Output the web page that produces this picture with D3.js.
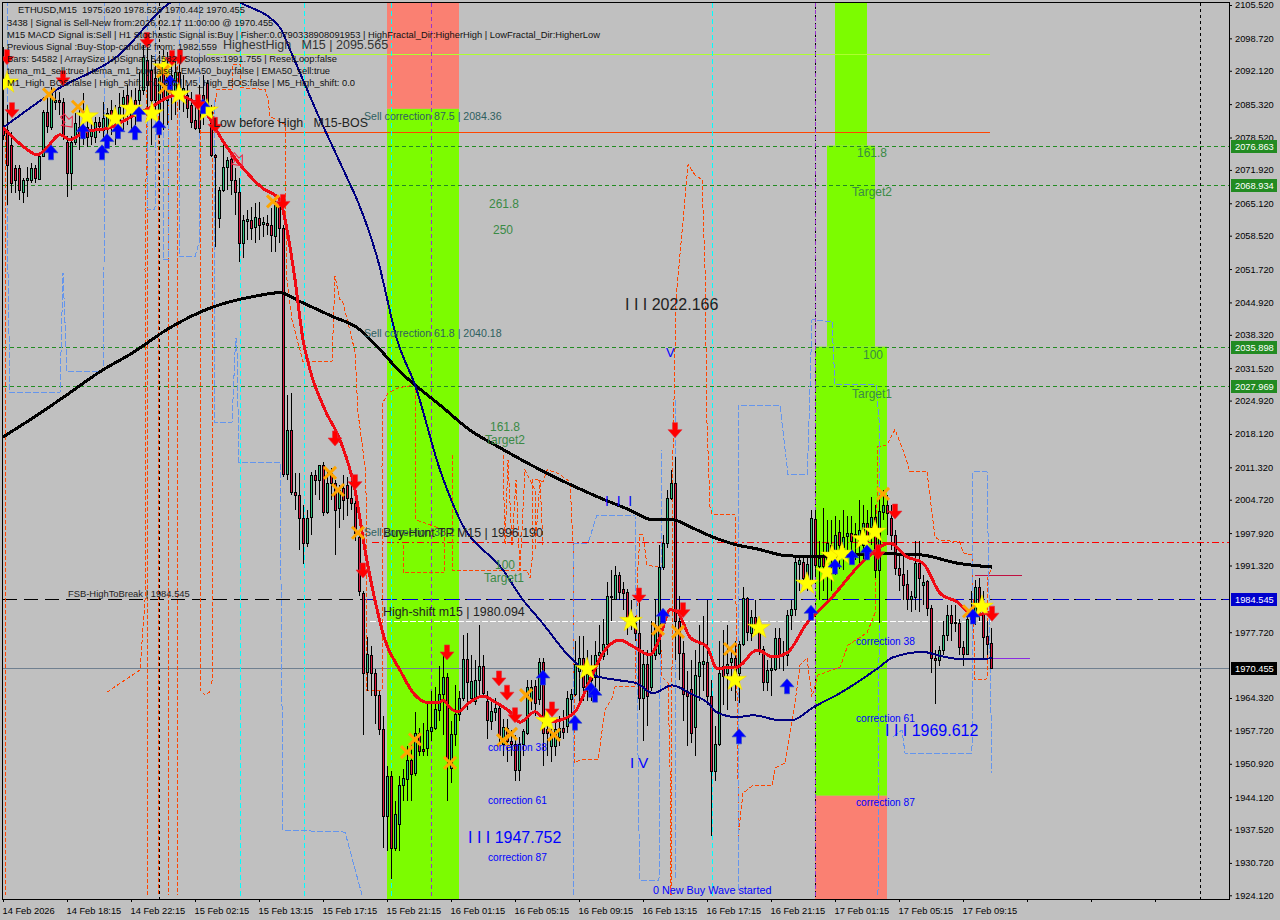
<!DOCTYPE html>
<html><head><meta charset="utf-8">
<script src="https://cdn.jsdelivr.net/npm/d3@7/dist/d3.min.js"></script>
<style>html,body{margin:0;padding:0;background:#c0c0c0}svg{display:block}text{font-family:"Liberation Sans",sans-serif}</style>
</head><body><div id="c"></div><script>
// open, high, low, close per M15 bar
const candles=[
[2081.1,2097.0,2078.0,2079.1],[2080.1,2085.2,2064.8,2072.9],[2077.0,2079.7,2067.2,2069.3],[2072.3,2072.9,2067.2,2069.9],[2072.3,2072.9,2065.8,2067.8],[2067.4,2070.3,2065.2,2069.9],[2069.9,2072.5,2066.4,2070.3],[2069.9,2073.3,2069.3,2072.3],[2072.3,2072.9,2069.3,2070.3],[2070.1,2075.4,2069.9,2074.8],
[2074.8,2084.2,2074.6,2083.8],[2083.8,2087.6,2079.5,2080.9],[2080.7,2088.9,2080.1,2087.6],[2085.8,2088.2,2084.2,2086.2],[2086.2,2087.8,2083.1,2085.8],[2085.8,2086.6,2078.0,2079.1],[2077.6,2078.9,2066.4,2071.3],[2071.3,2078.9,2067.8,2077.6],[2077.6,2083.5,2077.0,2081.5],[2080.7,2084.6,2076.0,2079.1],
[2078.4,2087.6,2077.0,2080.7],[2080.7,2083.8,2076.6,2078.6],[2078.9,2081.7,2077.0,2080.1],[2078.6,2082.7,2077.4,2081.7],[2081.7,2082.7,2079.5,2080.9],[2080.1,2085.8,2078.0,2082.5],[2080.5,2084.6,2077.4,2083.5],[2084.2,2086.2,2079.1,2081.1],[2083.5,2085.2,2077.0,2081.7],[2082.1,2087.6,2079.7,2084.8],
[2085.4,2088.2,2080.1,2086.8],[2087.2,2089.3,2081.1,2085.2],[2082.7,2088.2,2080.1,2085.6],[2086.2,2088.6,2081.1,2084.6],[2086.2,2091.9,2082.1,2088.2],[2088.2,2097.4,2087.2,2095.0],[2094.4,2097.4,2084.2,2089.3],[2092.3,2095.4,2077.0,2086.2],[2090.7,2094.4,2082.1,2086.2],[2084.2,2095.4,2079.1,2091.7],
[2092.3,2096.4,2080.1,2086.2],[2086.2,2096.0,2081.1,2091.9],[2091.3,2094.4,2082.1,2088.2],[2087.8,2094.8,2083.1,2091.9],[2091.9,2095.4,2084.2,2088.6],[2086.6,2091.3,2083.8,2088.6],[2087.2,2089.3,2082.5,2084.6],[2085.2,2087.8,2080.5,2081.7],[2082.1,2086.2,2080.1,2080.5],[2086.2,2089.3,2079.5,2080.5],
[2087.2,2091.3,2081.1,2083.1],[2089.7,2090.3,2082.7,2084.2],[2084.2,2085.2,2074.6,2075.0],[2075.0,2075.2,2056.2,2074.6],[2062.1,2068.5,2060.1,2067.8],[2067.8,2077.0,2067.4,2072.5],[2072.5,2074.6,2067.8,2074.0],[2074.2,2075.4,2066.8,2069.9],[2069.9,2072.3,2062.7,2067.4],[2067.4,2070.3,2053.2,2057.0],
[2057.0,2062.7,2054.0,2061.7],[2061.5,2063.8,2057.6,2061.9],[2061.7,2064.4,2057.6,2060.1],[2060.3,2065.2,2057.0,2062.3],[2062.1,2065.4,2057.6,2060.7],[2060.9,2062.3,2058.3,2061.3],[2061.1,2062.7,2058.7,2060.7],[2060.7,2064.2,2055.2,2058.7],[2058.5,2065.8,2055.2,2064.8],[2064.8,2065.8,2057.0,2060.1],
[2060.1,2060.7,2009.3,2009.9],[2009.9,2026.0,2008.7,2018.9],[2018.9,2026.4,2005.6,2006.2],[2006.2,2010.1,2002.6,2005.6],[2005.6,2010.1,1994.4,2000.9],[2000.9,2003.6,1991.7,1996.0],[1996.0,2002.6,1995.0,2000.9],[2001.1,2010.3,1997.5,2009.7],[2009.7,2010.7,2005.6,2008.7],[2008.7,2011.8,2004.6,2011.7],
[2011.7,2012.4,2001.5,2002.2],[2002.2,2010.7,2001.9,2008.1],[2010.1,2011.1,2004.6,2008.1],[2008.1,2008.7,1993.4,2002.6],[2003.0,2007.7,1998.9,2006.6],[2007.2,2009.7,2000.5,2004.6],[2007.7,2009.3,2001.5,2005.0],[2005.0,2008.7,2002.6,2004.0],[2004.0,2004.6,1996.4,1997.9],[1997.1,1998.5,1985.2,1986.2],
[1985.8,1986.2,1956.7,1969.5],[1969.7,1976.8,1965.8,1973.2],[1973.0,1975.0,1964.8,1969.5],[1969.5,1970.3,1959.1,1965.0],[1965.0,1965.8,1956.7,1958.1],[1958.1,1960.7,1933.8,1940.3],[1940.3,1950.5,1933.2,1948.5],[1948.5,1949.5,1927.5,1933.8],[1933.8,1943.4,1933.2,1940.7],[1938.7,1948.5,1933.2,1946.5],
[1946.5,1949.9,1943.4,1948.1],[1947.9,1954.6,1943.4,1951.6],[1951.6,1955.6,1943.4,1948.9],[1949.1,1961.4,1948.5,1957.1],[1957.1,1958.3,1952.6,1953.6],[1954.0,1959.3,1952.6,1953.6],[1954.2,1963.8,1952.6,1957.7],[1957.5,1965.8,1955.6,1958.5],[1958.3,1966.5,1957.7,1962.0],[1961.8,1970.9,1959.7,1965.2],
[1965.2,1973.0,1956.7,1968.7],[1968.7,1969.5,1943.4,1951.6],[1950.1,1959.7,1946.9,1956.9],[1956.9,1966.9,1954.6,1961.0],[1961.0,1965.8,1959.7,1964.4],[1964.4,1977.1,1963.8,1972.2],[1972.2,1977.5,1961.8,1967.5],[1964.4,1973.0,1963.8,1967.7],[1963.8,1972.0,1962.8,1967.9],[1967.9,1979.1,1964.8,1970.9],
[1970.9,1973.0,1964.8,1965.4],[1963.8,1965.8,1956.0,1959.9],[1959.7,1963.8,1957.7,1961.6],[1961.4,1964.4,1959.7,1962.2],[1962.2,1962.8,1954.6,1956.7],[1955.0,1960.1,1952.6,1958.5],[1958.3,1960.1,1951.2,1955.6],[1955.6,1957.7,1952.6,1955.0],[1955.0,1956.7,1947.5,1949.7],[1949.7,1956.3,1947.5,1955.0],
[1955.0,1958.1,1952.6,1957.5],[1957.1,1967.9,1956.7,1966.5],[1964.2,1967.9,1961.8,1966.5],[1966.7,1967.9,1960.7,1963.2],[1964.2,1972.4,1962.8,1971.6],[1971.6,1972.4,1950.5,1957.1],[1958.1,1959.7,1952.6,1957.1],[1954.6,1958.7,1951.2,1957.1],[1954.6,1959.7,1952.6,1958.1],[1956.3,1960.7,1954.6,1958.3],
[1958.3,1961.8,1956.0,1957.3],[1958.7,1965.8,1957.1,1964.4],[1964.2,1966.2,1960.7,1965.2],[1965.2,1976.0,1964.8,1971.3],[1969.9,1977.0,1963.8,1972.4],[1972.4,1976.9,1963.8,1966.5],[1966.5,1974.0,1963.8,1969.3],[1970.3,1973.0,1963.8,1967.9],[1968.5,1976.0,1964.8,1973.0],[1973.0,1979.1,1965.8,1973.6],
[1972.8,1980.5,1972.0,1975.4],[1975.4,1987.9,1973.0,1985.2],[1984.8,1990.3,1980.1,1985.2],[1984.4,1991.3,1984.2,1989.3],[1989.3,1989.9,1984.2,1986.0],[1986.6,1987.9,1982.2,1985.8],[1986.0,1986.6,1977.1,1980.1],[1980.1,1984.2,1978.1,1979.1],[1979.5,1981.1,1976.0,1977.5],[1977.5,1984.2,1961.8,1964.4],
[1964.4,1974.0,1955.6,1971.3],[1971.3,1974.0,1958.7,1964.8],[1966.5,1980.1,1965.8,1973.0],[1973.0,1984.2,1972.0,1979.1],[1973.4,1995.4,1973.0,1991.1],[1991.1,1997.5,1990.3,1996.0],[1996.0,2006.6,1994.8,2005.0],[2005.0,2010.7,2004.6,2008.1],[2008.1,2013.4,1972.0,1980.1],[1980.1,1985.2,1967.9,1973.4],
[1973.4,1976.0,1959.7,1965.2],[1965.8,1969.9,1954.6,1964.8],[1966.2,1972.0,1955.2,1957.1],[1958.5,1974.0,1952.6,1969.1],[1968.9,1979.1,1963.8,1971.6],[1971.3,1981.1,1965.8,1971.8],[1971.6,1984.2,1962.8,1964.8],[1964.8,1967.9,1936.3,1949.5],[1949.5,1958.7,1947.5,1955.0],[1955.0,1976.0,1954.6,1969.5],
[1970.9,1978.1,1962.8,1968.9],[1969.5,1979.1,1961.8,1971.3],[1971.6,1975.0,1965.8,1972.4],[1972.4,1976.0,1963.8,1969.0],[1969.5,1976.0,1963.2,1975.4],[1975.4,1986.9,1975.0,1984.6],[1984.6,1984.8,1976.0,1977.7],[1977.5,1982.2,1976.0,1980.9],[1980.9,1984.2,1977.1,1977.7],[1977.7,1979.1,1973.0,1974.4],
[1974.4,1975.0,1965.8,1967.5],[1967.5,1972.0,1965.8,1970.1],[1970.1,1973.0,1964.8,1970.5],[1970.3,1978.5,1969.9,1976.6],[1976.6,1978.5,1970.3,1973.0],[1973.4,1976.0,1969.9,1973.0],[1973.0,1982.2,1970.9,1981.3],[1981.3,1984.2,1978.1,1982.4],[1982.4,1993.4,1981.1,1992.0],[1991.7,1993.4,1986.2,1992.4],
[1992.0,1993.0,1986.2,1988.7],[1988.7,1993.4,1986.2,1991.7],[1988.3,2002.6,1986.2,2000.9],[2000.7,2002.6,1989.3,1991.5],[1991.3,1996.4,1984.2,1992.8],[1993.4,2003.1,1986.2,1991.3],[1992.4,2000.5,1984.2,1996.0],[1995.4,2000.5,1986.2,1993.4],[1994.4,2001.5,1989.3,1997.5],[1998.1,2000.5,1990.7,1995.4],
[1995.0,2002.6,1990.3,1997.1],[1997.3,2001.5,1994.4,1997.9],[1997.9,2001.5,1992.4,1996.4],[1997.7,1999.9,1992.4,1997.3],[1995.4,2004.6,1991.3,1998.5],[1995.4,2003.6,1992.4,1999.9],[1999.9,2002.6,1992.4,1996.4],[1999.1,2005.2,1995.4,2001.1],[2001.1,2003.6,1988.7,1990.3],[1990.5,2005.6,1979.5,2002.4],
[2002.2,2006.6,2000.5,2003.6],[2003.6,2005.6,1997.5,2002.0],[2000.9,2003.6,1994.4,1997.5],[1997.5,1998.5,1989.3,1990.9],[1990.9,1993.4,1986.2,1989.3],[1989.5,1993.4,1984.2,1987.3],[1987.5,1990.3,1982.2,1984.4],[1984.4,1986.2,1981.8,1985.2],[1985.0,1996.4,1982.2,1991.9],[1991.9,1996.4,1981.8,1988.7],
[1987.3,1989.3,1983.2,1987.9],[1988.1,1988.3,1981.1,1982.6],[1982.6,1983.2,1969.5,1972.4],[1972.4,1974.0,1963.0,1972.0],[1972.0,1975.0,1970.9,1974.2],[1974.0,1980.1,1973.0,1977.1],[1977.1,1983.2,1976.0,1981.3],[1981.3,1983.2,1976.0,1979.7],[1979.7,1983.2,1977.7,1979.9],[1979.7,1980.5,1973.0,1974.8],
[1974.8,1976.0,1970.9,1973.2],[1973.2,1981.1,1973.0,1980.5],[1980.5,1986.2,1979.5,1981.8],[1981.8,1988.3,1979.1,1986.9],[1986.9,1988.7,1980.1,1981.8],[1981.8,1986.2,1972.0,1976.7],[1976.9,1980.1,1973.0,1975.4],[1975.62,1978.52,1970.442,1970.455]];

// [bar, price]
const temaLine=[[0,2080.5],[1.75,2079.1],[5.5,2076.4],[8.5,2075.0],[10.5,2076.0],[14.25,2079.1],[16.75,2078.1],[20.5,2079.7],[26.75,2080.5],[31.75,2082.6],[36.75,2084.6],[43,2087.1],[50.5,2083.8],[54.75,2078.1],[59.25,2073.0],[64.75,2068.3],[69.25,2065.8],[70.5,2061.8],[73,2049.6],[75,2037.3],[76.75,2031.2],[80.5,2023.0],[84.25,2016.9],[88,2006.7],[90.5,1994.5],[93,1984.2],[95.5,1976.1],[99.25,1970.0],[103,1964.9],[106.75,1963.3],[109.25,1963.5],[110,1963.9],[111.75,1962.3],[113.75,1961.5],[116.75,1963.5],[120,1964.7],[123,1963.5],[126.75,1961.5],[129.25,1959.4],[133,1961.5],[136.25,1959.4],[139.25,1959.8],[143,1961.5],[146.75,1968.0],[150.5,1974.1],[154.25,1976.1],[157.75,1974.7],[161.75,1973.1],[164.25,1976.7],[166.75,1982.3],[168.5,1981.9],[171.75,1976.7],[176,1974.7],[178.5,1970.4],[183.5,1970.6],[188.5,1974.1],[192.5,1972.7],[196,1973.5],[201,1979.6],[206,1983.7],[216,1992.9],[221.75,1995.9],[226,1993.1],[230,1991.8],[234.25,1985.7],[238.5,1983.9],[242.5,1981.2],[246.75,1981.8]];
const navyLine=[[0,2080.5],[13.5,2088.3],[28.5,2095.0],[41.75,2106.0],[50.5,2109.1],[59.25,2106.0],[69.25,2100.9],[71.75,2096.4],[78.5,2083.6],[86.25,2069.9],[88.75,2065.4],[93.5,2054.2],[98.75,2036.7],[103,2028.1],[109.25,2010.8],[114.25,2000.6],[125,1990.4],[130,1984.3],[134.25,1980.2],[142.5,1972.0],[147.5,1969.0],[154.25,1967.9],[158.5,1967.3],[162.5,1965.3],[167.25,1966.9],[171.75,1965.3],[176.25,1963.3],[178.5,1961.4],[183.5,1960.4],[187.5,1960.8],[194.25,1959.8],[197.25,1959.8],[202.5,1962.4],[209.25,1965.3],[218.75,1970.4],[222.5,1972.6],[230,1973.7],[234.25,1972.9],[240,1972.2],[247.25,1972.4]];
const blackLine=[[0,2017.5],[7.5,2021.4],[16,2026.1],[24.25,2030.8],[32.5,2034.7],[41,2039.4],[52.5,2044.0],[62.5,2046.1],[69.25,2046.9],[74.25,2045.1],[82.5,2042.0],[88.5,2039.8],[94.25,2035.3],[99.25,2030.8],[103,2028.1],[109.25,2024.0],[116.75,2018.9],[124.25,2015.3],[136.75,2009.8],[149.25,2005.1],[156.75,2002.6],[162.5,2000.6],[167.5,2000.6],[171.75,1999.2],[177.5,1997.1],[183.5,1995.5],[188.5,1994.7],[196,1993.3],[205,1993.1],[219.25,1993.7],[229.25,1993.5],[238.5,1991.8],[247.25,1991.0]];

const orangeSegs=[
[[.5,2080.1],[.5,1924.2]],
[[26,1965.5],[30.5,1968.0],[34.25,1970.0],[35.5,1984.3],[35.5,2051.6],[36,2088.3],[36,1924.2]],
[[38.75,2090.3],[38.75,1924.2]],[[41.25,2088.3],[41.25,1924.2]],[[43.5,2094.4],[43.5,1924.2]],
[[49.25,2080.1],[49.25,1965.9],[50.5,1964.9],[52.25,1965.9],[52.5,2082.2],[53.5,2088.3],[57.25,2088.3],[57.25,2093.4],[59.25,2093.4],[59.25,2088.7],[65.5,2088.3],[66.25,2086.3],[66.75,2082.8],[70.5,2081.2],[70.5,2069.9],[71,2049.5],[72.25,2041.4],[75,2032.8],[82.25,2032.8],[83,2050.2],[84.25,2045.5],[85,2044.9],[88,2034.9],[88.75,2022.4],[89.75,2016.3],[90.5,2011.4],[90.75,2006.1],[90.75,1965.9],[94.75,1965.9],[94.75,2011.4],[95,2024.5],[96.25,2026.5],[98.75,2027.5],[103,2028.1],[103.25,2000.6],[110.25,1998.6],[110.25,1989.8]],
[[100,1995.5],[100,1989.8],[110.25,1989.8]],
[[112.25,2013.9],[112.25,1990.4],[131,1990.4],[131.75,1988.8],[132.25,1992.4],[132.25,2008.8],[133.5,2008.8],[135,2008.4],[136,2010.8],[138.5,2010.2],[141.75,2008.4],[142.5,1995.9],[142.5,1986.3],[143,1951.1],[144.25,1951.7],[148.75,1951.7],[150.5,1961.9],[152.25,1964.3],[153,1966.6],[158,1966.6],[158.75,1991.0],[159.25,1997.6],[160,1997.6],[161,1991.4],[163.75,1991.0],[164.75,1968.6],[166.25,1967.4],[166.75,1950.2],[167,1924.2],[167.5,2014.9],[168.25,2045.5],[171.25,2073.0],[173,2070.9],[174.75,2069.9],[175.5,2051.6],[176,2020.4],[176.75,2003.3],[177.25,2001.8],[183,2001.8],[183.75,1947.6],[183.75,1935.4],[184.25,1939.4],[185,1944.9],[187.25,1946.4],[192.25,1946.4],[193,1950.0],[195.5,1951.1],[196.75,1957.2],[198,1963.3],[199.25,1971.0],[201,1972.5],[202.25,1964.5],[203.75,1969.0],[209.25,1970.6],[211.25,1975.1],[216,1977.6],[218,1981.6],[218.75,2015.5],[221,2015.9],[223,2019.0],[225,2014.9],[226.75,2010.4],[231,2010.4],[233,1997.1],[234.25,1996.5],[239.25,1996.1],[240,1993.9],[242.25,1993.5],[243,1968.0],[246,1968.2],[246.25,1989.0],[247.25,1991.0]],
[[125,2013.9],[125.5,1995.5],[126.25,2012.8],[127.25,1995.5],[128.25,2008.8],[129.25,1990.4],[130.5,2010.8],[133,2006.7],[133,1994.5],[134.25,2008.8],[135,1995.5]]];
const blueSegs=[
[[1,2106.6],[1,2063.2],[1.75,2026.5],[14.25,2026.5],[15,2051.0],[16,2030.8],[25,2030.8],[25.25,2052.2],[25.5,2106.6]],
[[36,2106.6],[36,2063.8],[38,2063.8],[38.25,2106.6]],
[[40,2094.4],[40,2053.6],[41.25,2053.6],[41.25,2094.4]],
[[44,2106.6],[44,2054.2],[48,2054.2],[49,2057.1],[49,2106.6]],
[[52.75,2086.2],[53,2020.4],[57.25,2020.4],[58,2034.7],[58.25,2037.7],[58.5,2034.7],[59,2012.4],[69.25,2012.4],[69.5,1988.4],[70,1937.4],[85.5,1937.0],[89.75,1924.2]],
[[142.5,1924.2],[142.5,1995.9],[146.25,1995.9],[148.5,2001.6],[158,2001.6],[159,1936.8],[159.25,1927.2],[164,1927.2],[164.25,1965.3],[164.75,2014.9]],
[[168,2025.1],[168,1927.2]],
[[183.75,1925.2],[183.75,2024.0],[194.25,2024.0],[196.25,2009.8],[201,2009.8],[201.25,2014.3],[202.25,2041.4],[207.25,2041.0],[208,2028.1],[218.25,2028.1],[219.25,2018.9],[218.75,1924.2]],
[[222.5,1956.4],[224.75,1957.8],[225.5,1953.1],[242.25,1953.1],[242.5,2010.4],[246,2010.4],[247.25,1949.0]]];

const redArrows=[[1,2095.0],[2.25,2084.2],[15,2090.7],[36,2098.5],[42.25,2094.8],[44.25,2095.0],[48.75,2085.8],[53,2081.2],[70,2065.5],[83,2017.3],[88,2008.4],[90,1990.4],[111,1973.7],[124,1968.4],[126,1965.5],[128,1960.9],[137.25,1962.1],[159,1985.3],[168,2019.0],[170,1982.3],[218.75,1994.1],[223,2002.4],[247.25,1981.6]];
const blueArrows=[[12,2075.4],[24.75,2075.4],[26,2077.7],[20,2079.7],[28.75,2079.7],[33,2079.5],[34,2083.2],[39,2080.5],[41.75,2089.7],[50,2084.8],[135,1968.4],[143,1959.2],[147,1965.9],[148,1964.9],[165,1981.0],[196,1966.6],[184,1956.4],[202,1981.6],[208,1991.0],[212.25,1992.9],[216,1993.9],[242.5,1980.8]];
const stars=[[1,2089.7],[21,2082.8],[28,2082.4],[32,2084.4],[37.25,2083.4],[44,2087.3],[51,2084.0],[40.25,2092.8],[136,1959.6],[146,1970.2],[157,1980.0],[183,1968.0],[189,1978.6],[201,1987.6],[206,1990.0],[207.25,1993.3],[209.75,1993.7],[215,1996.7],[218,1998.2],[244.75,1982.9]];
const crosses=[[11.5,2087.3],[18.75,2084.8],[67.5,2065.5],[40,2092.0],[40.5,2088.7],[81.75,2010.2],[83.75,2006.7],[88.75,1998.0],[101,1953.3],[103,1955.9],[111.75,1951.1],[125,1955.7],[127,1957.0],[130.75,1964.9],[137.75,1956.8],[163.75,1978.4],[168.75,1977.8],[181.75,1974.3],[220,2005.9],[241.5,1982.0]];
const hollowArrows=[[16,2081.9],[58.5,2074.0]];

const priceTicks=[2105.52,2098.72,2092.12,2085.32,2078.52,2071.92,2065.12,2058.52,2051.72,2044.92,2038.32,2031.52,2024.92,2018.12,2011.32,2004.72,1997.92,1991.32,1977.72,1964.32,1957.72,1950.92,1944.12,1937.52,1930.72,1924.12];
const timeLabels=["14 Feb 2026","14 Feb 18:15","14 Feb 22:15","15 Feb 02:15","15 Feb 13:15","15 Feb 17:15","15 Feb 21:15","16 Feb 01:15","16 Feb 05:15","16 Feb 09:15","16 Feb 13:15","16 Feb 17:15","16 Feb 21:15","17 Feb 01:15","17 Feb 05:15","17 Feb 09:15"];
const infoLines=["3438 | Signal is Sell-New from:2026.02.17 11:00:00 @ 1970.455","M15 MACD Signal is:Sell | H1 Stochastic Signal is:Buy | Fisher:0.0790338908091953 | HighFractal_Dir:HigherHigh | LowFractal_Dir:HigherLow","Previous Signal :Buy-Stop-candle2 from: 1982.559","Bars: 54582 | ArraySize UpSignal: 54582 | Stoploss:1991.755 | ResetLoop:false","tema_m1_sell:true | tema_m1_buy:false | EMA50_buy:false | EMA50_sell:true","M1_High_BOS:false | High_shift_m1: 0.0 | M5_High_BOS:false | M5_High_shift: 0.0"];

const W=1280,H=920,L=3,R=1229,T=3,B=899;
const x=d3.scaleLinear().domain([0,306.5]).range([L,R]);
const y=d3.scaleLinear().domain([1924.12,2105.52]).range([895.3,5]);
const svg=d3.select("#c").append("svg").attr("width",W).attr("height",H);
svg.append("rect").attr("width",W).attr("height",H).attr("fill","#c0c0c0");
svg.append("defs").append("clipPath").attr("id","pl").append("rect").attr("x",L).attr("y",T).attr("width",R-L).attr("height",B-T);
const g=svg.append("g").attr("clip-path","url(#pl)");

// zones: bar0, bar1, price top, price bottom, colour
const zones=[[96,114,2110,2084.36,"#fa8072"],[96,114,2084.36,1900,"#7cfc00"],
[208,216,2110,2076.863,"#7cfc00"],[206,218,2076.863,2035.898,"#7cfc00"],[203,221,2035.898,1944.4,"#7cfc00"],[203,221,1944.4,1900,"#fa8072"]];
g.selectAll(".z").data(zones).join("rect").attr("x",d=>x(d[0])).attr("width",d=>x(d[1])-x(d[0])).attr("y",d=>y(d[2])).attr("height",d=>y(d[3])-y(d[2])).attr("fill",d=>d[4]);

// levels: price, bar0, bar1, colour, dash, width
const levels=[[2076.863,0,306.5,"#228b22","4,3",1],[2068.934,0,306.5,"#228b22","4,3",1],[2035.898,0,306.5,"#228b22","4,3",1],[2027.969,0,306.5,"#228b22","4,3",1],
[1970.455,0,306.5,"#708090",null,1],[1984.545,0,306.5,"#000000","14,7",1],[1984.545,89.75,306.5,"#0000cd","14,7",1],[1996.19,92.25,306.5,"#ff0000","7,3,2,3",1],
[1980.094,91.75,247,"#ffffff","6,2",1],[2095.565,51,246.75,"#adff2f",null,1],[2079.7,49.25,246.75,"#ff4500",null,1],[1989.4,243,254.75,"#c01040",null,1],[1972.5,247.25,256.75,"#8a2be2",null,1]];
levels.forEach(d=>{const yy=Math.round(y(d[0]))+.5;g.append("line").attr("x1",x(d[1])).attr("x2",x(d[2])).attr("y1",yy).attr("y2",yy).attr("stroke",d[3]).attr("stroke-width",d[5]).attr("stroke-dasharray",d[4]);});

// vertical time lines: bar, colour, dash
[[39,"#000","3,3"],[203,"#000","2,2"],[299.25,"#000","3,3"],[59.25,"#00ffff","5,3"],[75.25,"#00ffff","5,3"],[97,"#00ffff","5,3"],[177.25,"#00ffff","5,3"],[107,"#9932cc","4,3"],[203,"#9932cc","4,3"]].forEach(d=>{const xx=Math.round(x(d[0]))+.5;g.append("line").attr("x1",xx).attr("x2",xx).attr("y1",T).attr("y2",B).attr("stroke",d[1]).attr("stroke-dasharray",d[2]);});

const ln=d3.line().x(d=>x(d[0])).y(d=>y(d[1]));
orangeSegs.forEach(s=>g.append("path").attr("d",ln(s)).attr("fill","none").attr("stroke","#ff4500").attr("stroke-dasharray","4,2").attr("shape-rendering","crispEdges"));
blueSegs.forEach(s=>g.append("path").attr("d",ln(s)).attr("fill","none").attr("stroke","#6495ed").attr("stroke-dasharray","6,2").attr("shape-rendering","crispEdges"));

// candles
const cg=g.append("g").attr("shape-rendering","crispEdges");
candles.forEach((d,i)=>{const [o,h,l,c]=d,X=Math.round(x(i)),top=Math.round(y(Math.max(o,c))),bot=Math.round(y(Math.min(o,c)));
 cg.append("line").attr("x1",X+.5).attr("x2",X+.5).attr("y1",y(h)).attr("y2",y(l)).attr("stroke","#000");
 cg.append("rect").attr("x",X-.5).attr("y",top+.5).attr("width",2).attr("height",Math.max(bot-top,1)).attr("fill",c>=o?"#2ec27e":"#dc143c").attr("stroke","#000");});

const lc=d3.line().curve(d3.curveMonotoneX).x(d=>x(d[0])).y(d=>y(d[1]));
g.append("path").attr("d",lc(blackLine)).attr("fill","none").attr("stroke","#000").attr("stroke-width",3).attr("shape-rendering","crispEdges");
g.append("path").attr("d",lc(navyLine)).attr("fill","none").attr("stroke","#000080").attr("stroke-width",2).attr("shape-rendering","crispEdges");
g.append("path").attr("d",lc(temaLine)).attr("fill","none").attr("stroke","#f00a14").attr("stroke-width",3).attr("shape-rendering","crispEdges");

// markers
const arrow="M-2.5,7L-2.5,0L-7,0L0,-8L7,0L2.5,0L2.5,7Z";
const at=d=>`translate(${x(d[0])},${y(d[1])})`;
g.selectAll(".st").data(stars).join("path").attr("d",d3.symbol(d3.symbolStar,160)()).attr("transform",at).attr("fill","#ffff00").attr("stroke","#f0d000").attr("stroke-width",.5);
g.selectAll(".cx").data(crosses).join("path").attr("d","M-6,-6L6,6M-6,6L6,-6").attr("transform",at).attr("stroke","#ffa500").attr("stroke-width",3).attr("fill","none");
g.selectAll(".ba").data(blueArrows).join("path").attr("d",arrow).attr("transform",at).attr("fill","#0000ff").attr("stroke","#3050c0").attr("stroke-width",.6);
g.selectAll(".ra").data(redArrows).join("path").attr("d",arrow).attr("transform",d=>at(d)+" rotate(180)").attr("fill","#ff0000").attr("stroke","#e03040").attr("stroke-width",.6);
g.selectAll(".ha").data(hollowArrows).join("path").attr("d",arrow).attr("transform",d=>at(d)+" rotate(140)").attr("fill","none").attr("stroke","#f02040").attr("stroke-width",1);

// labels: text, left, baseline, size, colour
const labels=[
["ETHUSD,M15  1975.620 1978.520 1970.442 1970.455",18,13,9.3,"#111"],
["HighestHigh   M15 | 2095.565",223,49,12.5,"#333"],["Low before High   M15-BOS",213,127,12.4,"#222"],
["Sell correction 87.5 | 2084.36",364,120,10.6,"#2f5f5f"],["Sell correction 61.8 | 2040.18",364,337,10.6,"#2f5f5f"],["Sell correction 38.2",364,536,10.6,"#2f5f5f"],
["Buy-Hunt TP M15 | 1996.190",383,537,12.4,"#222"],["High-shift m15 | 1980.094",383,616,12.4,"#222"],["FSB-HighToBreak | 1984.545",68,597,9.4,"#222"],
["261.8",489,208,12,"#3a8a45"],["250",493,234,12,"#3a8a45"],["161.8",490,431,12,"#3a8a45"],["Target2",485,444,12,"#3a8a45"],["100",495,569,12,"#3a8a45"],["Target1",484,582,12,"#3a8a45"],
["161.8",857,157,12,"#3a8a45"],["Target2",852,196,12,"#3a8a45"],["100",863,359,12,"#3a8a45"],["Target1",852,398,12,"#3a8a45"],
["I I I 2022.166",625,310,16,"#222"],["I I I 1947.752",468,843,16,"#0000ff"],["I I I 1969.612",885,736,16,"#0000ff"],
["correction 38",488,751,10.2,"#0000ff"],["correction 61",488,804,10.2,"#0000ff"],["correction 87",488,861,10.2,"#0000ff"],
["correction 38",856,645,10.2,"#0000ff"],["correction 61",856,722,10.2,"#0000ff"],["correction 87",856,806,10.2,"#0000ff"],
["0 New Buy Wave started",653,894,10.8,"#0000ff"],["I V",630,768,15,"#0000ff"],["V",666,357,13,"#0000ff"],["I  I  I",605,506,14,"#0000ff"]];
infoLines.forEach((t,i)=>labels.push([t,7,26+12*i,9.35,"#111"]));
svg.selectAll(".lb").data(labels).join("text").text(d=>d[0]).attr("x",d=>d[1]).attr("y",d=>d[2]).attr("font-size",d=>d[3]).attr("fill",d=>d[4]).attr("xml:space","preserve").style("white-space","pre");

// frame and axes
svg.append("rect").attr("x",L-.5).attr("y",T-.5).attr("width",R-L+1).attr("height",B-T+1).attr("fill","none").attr("stroke","#000").attr("shape-rendering","crispEdges");
const ay=svg.append("g").attr("transform",`translate(${R},0)`).call(d3.axisRight(y).tickValues(priceTicks).tickFormat(d3.format(".3f")).tickSize(3).tickPadding(3));
ay.select(".domain").remove();ay.selectAll("text").attr("font-size",9.3).attr("fill","#000").attr("font-family","Liberation Sans");ay.selectAll("line").attr("stroke","#000");
const ax=svg.append("g").attr("transform",`translate(0,${B})`).call(d3.axisBottom(x).tickValues(d3.range(0,304,16)).tickFormat((d,i)=>timeLabels[i]||"").tickSize(3).tickPadding(5));
ax.select(".domain").remove();ax.selectAll("text").attr("font-size",9.3).attr("fill","#000").attr("text-anchor","start").attr("dx",-1).attr("font-family","Liberation Sans");ax.selectAll("line").attr("stroke","#000");

// price tags: value, fill
[[2076.863,"#228b22"],[2068.934,"#228b22"],[2035.898,"#228b22"],[2027.969,"#228b22"],[1984.545,"#0000cd"],[1970.455,"#000000"]].forEach(d=>{
 const yy=Math.round(y(d[0]));
 svg.append("rect").attr("x",1231).attr("y",yy-6).attr("width",46).attr("height",13).attr("fill",d[1]);
 svg.append("text").text(d[0].toFixed(3)).attr("x",1235).attr("y",yy+4).attr("font-size",9.3).attr("fill","#fff");});
</script></body></html>
